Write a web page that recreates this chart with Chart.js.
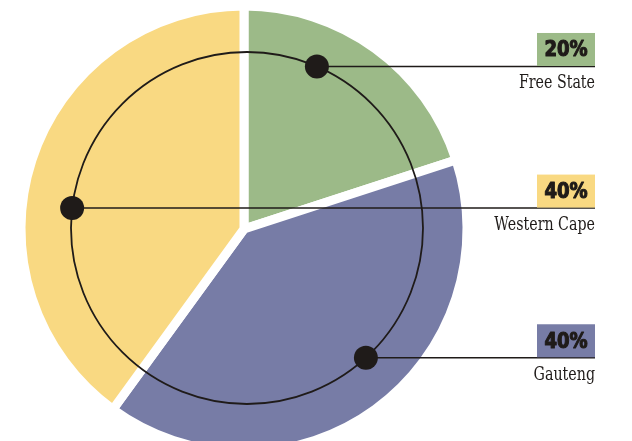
<!DOCTYPE html>
<html>
<head>
<meta charset="utf-8">
<script src="https://cdn.jsdelivr.net/npm/chart.js@4.4.0/dist/chart.umd.min.js"></script>
<style>
    html, body { margin: 0; padding: 0; background: #fff; overflow: hidden; }
    #wrap { width: 632px; height: 441px; overflow: hidden; }
</style>
</head>
<body>
<div id="wrap">
    <canvas id="myChart" width="632" height="470"></canvas>
</div>
<script>
// slices run clockwise from 12 o'clock
var provinces = ["Free State", "Gauteng", "Western Cape"];
var shares = [20, 40, 40];
var sliceColors = ["#9cba88", "#777ca6", "#f9d982"];

// callouts: a dot on the inner ring, a rule out to the right, a value tag and the name
var calloutPlugin = {
    id: 'callouts',
    afterDatasetsDraw: function (chart, args, opts) {
        var ctx = chart.ctx;
        var meta = chart.getDatasetMeta(0);
        var first = meta.data[0];
        var cx = first.x + opts.ringShiftX;
        var cy = first.y + opts.ringShiftY;
        var r = opts.ringRadius;
        var ink = '#1f1b19';

        ctx.save();
        ctx.strokeStyle = ink;
        ctx.lineWidth = 1.8;
        ctx.beginPath();
        ctx.arc(cx, cy, r, 0, Math.PI * 2);
        ctx.stroke();

        provinces.forEach(function (name, i) {
            var a = opts.angles[i] * Math.PI / 180;
            var dx = cx + r * Math.sin(a);
            var dy = cy - r * Math.cos(a);
            var right = opts.rightEdge;

            // rule
            ctx.strokeStyle = ink;
            ctx.lineWidth = 1.5;
            ctx.beginPath();
            ctx.moveTo(dx, dy);
            ctx.lineTo(right, dy);
            ctx.stroke();

            // dot
            ctx.fillStyle = ink;
            ctx.beginPath();
            ctx.arc(dx, dy, 12, 0, Math.PI * 2);
            ctx.fill();

            // value tag
            var bw = 58, bh = 33;
            ctx.fillStyle = sliceColors[i];
            ctx.fillRect(right - bw, dy - bh - 0.5, bw, bh);

            ctx.save();
            ctx.translate(right - bw / 2, dy - bh / 2);
            ctx.scale(0.86, 1);
            ctx.fillStyle = ink;
            ctx.strokeStyle = ink;
            ctx.lineWidth = 1.2;
            ctx.lineJoin = 'round';
            ctx.font = 'bold 21px "DejaVu Sans"';
            ctx.textAlign = 'center';
            ctx.textBaseline = 'middle';
            ctx.fillText(shares[i] + '%', 0, 1);
            ctx.strokeText(shares[i] + '%', 0, 1);
            ctx.restore();

            // province name
            ctx.save();
            ctx.translate(right, dy + 22);
            ctx.scale(0.79, 1);
            ctx.fillStyle = ink;
            ctx.font = '18px "DejaVu Serif"';
            ctx.textAlign = 'right';
            ctx.textBaseline = 'alphabetic';
            ctx.fillText(name, 0, 0);
            ctx.restore();
        });
        ctx.restore();
    }
};

var ctx = document.getElementById('myChart');

var myPieChart = new Chart(ctx, {
    type: 'pie',
    data: {
        labels: provinces,
        datasets: [{
            data: shares,
            backgroundColor: sliceColors,
            borderColor: '#ffffff',
            borderWidth: 9,
            hoverOffset: 0
        }]
    },
    options: {
        responsive: false,
        animation: false,
        radius: 223,
        layout: {
            padding: { left: 0, top: 0, right: 144, bottom: 12 }
        },
        plugins: {
            legend: { display: false },
            tooltip: { enabled: false },
            callouts: {
                ringShiftX: 3,
                ringShiftY: -1,
                ringRadius: 176,
                angles: [23.4, 137.5, 276.5],
                rightEdge: 595
            }
        }
    },
    plugins: [calloutPlugin]
});
</script>
</body>
</html>
